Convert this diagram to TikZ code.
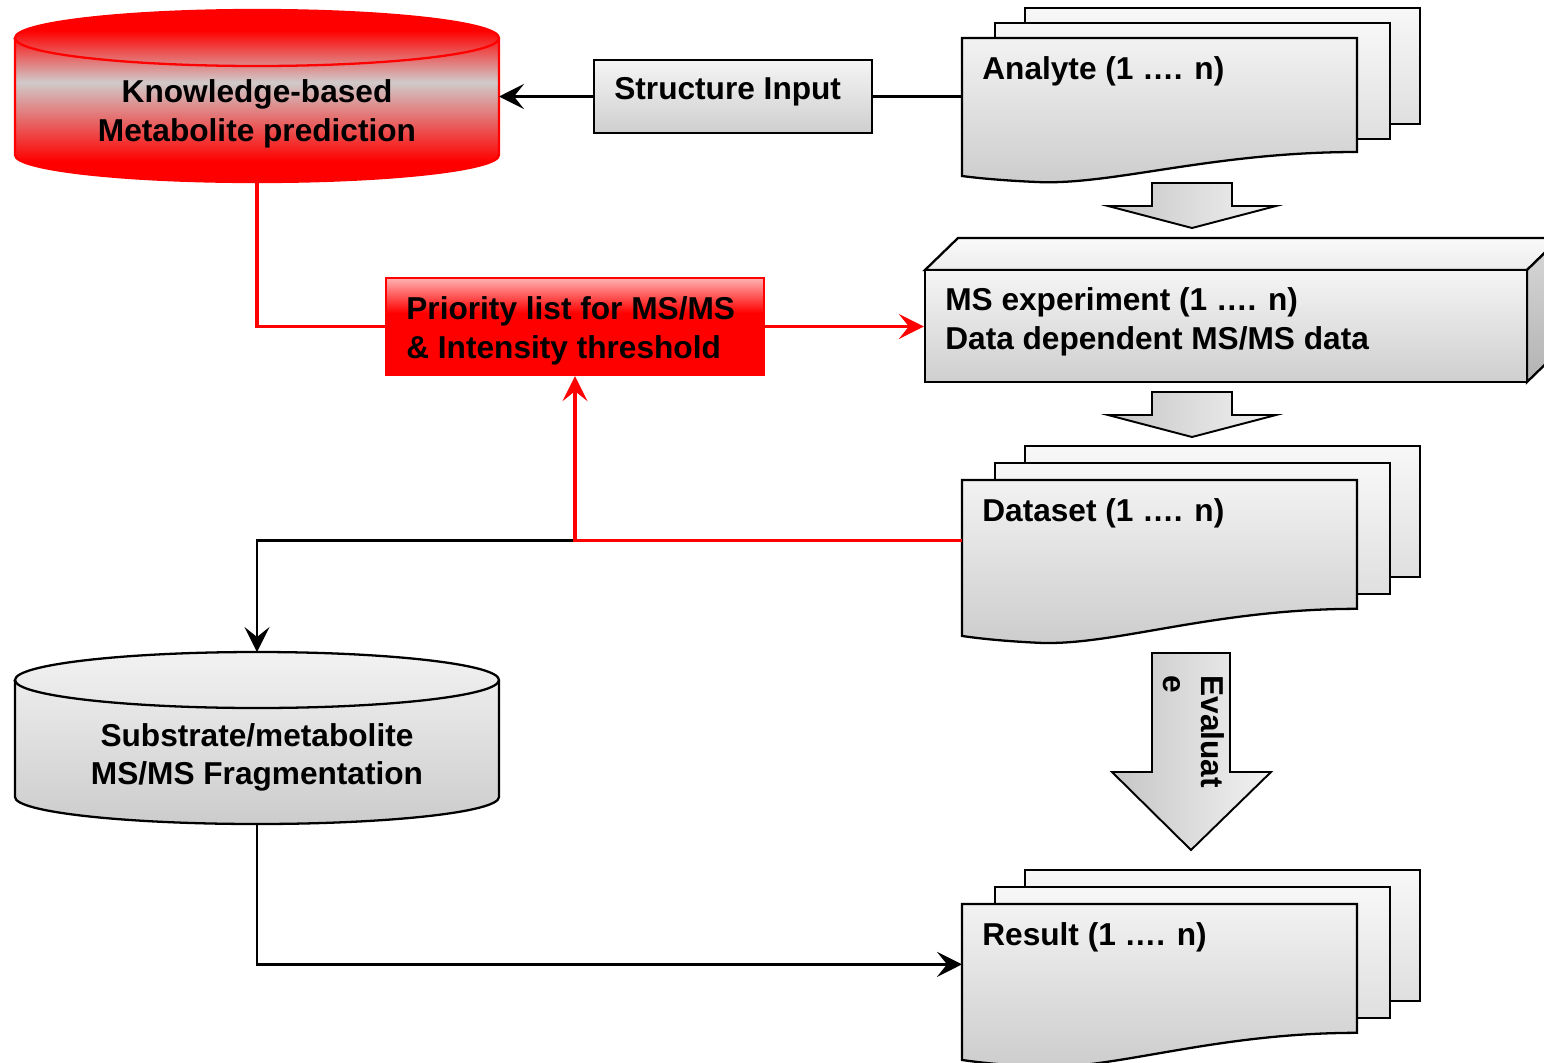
\documentclass[tikz,border=0pt]{standalone}
\usepackage{fontspec}
\setmainfont{Liberation Sans}
\usetikzlibrary{arrows.meta}

\definecolor{grisclaro}{RGB}{208,202,202}
\pgfdeclareverticalshading{sombrakb}{100bp}{color(0bp)=(red); color(31bp)=(red); color(54bp)=(grisclaro); color(69bp)=(red); color(100bp)=(red)}
\pgfdeclareverticalshading{sombraprio}{100bp}{color(0bp)=(red); color(57bp)=(red); color(75bp)=(red!30!white); color(100bp)=(red!30!white)}

% pila de documentos: #1 nombre, #2 esquina sup. izq., #3 escala vertical, #4 texto
\newcommand{\pila}[4]{%
  \begin{scope}[shift={#2}, yscale=#3]
    \path[docback] (1.26,0.6) rectangle ++(7.9,-2.32);
    \path[docback] (0.66,0.3) rectangle ++(7.9,-2.32);
    \path[docfront] (0,0) -- (7.9,0) -- (7.9,-2.28)
      .. controls (5.0,-2.28) and (3.0,-2.95) .. (1.5,-2.88)
      .. controls (0.8,-2.85) and (0.3,-2.8) .. (0,-2.76) -- cycle;
  \end{scope}
  \node[minimum width=7.9cm, minimum height=2.4cm, inner sep=0, anchor=north west] (#1) at #2 {};
  \node[anchor=west, inner sep=0] (#1txt) at ([shift={(0.4,-0.66)}]#1.north west) {#4};
}

\begin{document}
\begin{tikzpicture}[
  every node/.style={font=\fontsize{18}{22}\selectfont\bfseries},
  >={Stealth[length=0.5cm, width=0.5cm, inset=0.2cm]},
  caja/.style={rectangle, draw, line width=1.3pt, top color=gray!8, bottom color=gray!38},
  docfront/.style={draw, line width=1.3pt, top color=gray!10, bottom color=gray!40},
  docback/.style={draw, line width=1.3pt, top color=gray!6, bottom color=gray!25},
  flecha/.style={draw, line width=1.1pt, left color=gray!45, right color=gray!10},
  linea/.style={line width=1.4pt},
  linearoja/.style={red, line width=2pt}]

\useasboundingbox (0,0) rectangle (30.88,-21.24);

%% PREDICCION
% Base de conocimiento (cilindro rojo)
\path[draw=red, line width=1.3pt, shading=sombrakb] (0.3,-0.76) -- (0.3,-3.1)
  arc[start angle=180, end angle=360, x radius=4.84cm, y radius=0.54cm] -- (9.98,-0.76)
  arc[start angle=0, end angle=180, x radius=4.84cm, y radius=0.56cm] -- cycle;
\draw[red, line width=1.3pt] (0.3,-0.76) arc[start angle=180, end angle=360, x radius=4.84cm, y radius=0.56cm];
\node[align=center] (kb) at (5.14,-2.28) {Knowledge-based\\Metabolite prediction};
\coordinate (kbe) at (9.98,-1.93);
\coordinate (kbs) at (5.14,-3.64);

% Entrada de estructura
\node[caja, minimum width=5.56cm, minimum height=1.46cm] (struct) at (14.66,-1.93) {};
\node[anchor=west, inner sep=0] (structtxt) at (12.28,-1.84) {Structure Input};

% Analitos
\pila{analyte}{(19.24,-0.76)}{1}{Analyte (1 …. n)}

\draw[linea] (struct.east -| analyte.west) -- (struct.east);
\draw[linea,->] (struct.west) -- (kbe);

% Flecha 1
\path[flecha] (23.04,-3.66) -- (24.64,-3.66) -- (24.64,-4.12) -- (25.52,-4.12)
  -- (23.84,-4.56) -- (22.16,-4.12) -- (23.04,-4.12) -- cycle;

%% EXPERIMENTO
% Caja 3D
\path[draw, line width=1.3pt, top color=gray!4, bottom color=gray!15] (18.5,-5.4) -- (19.16,-4.76) -- (31.2,-4.76) -- (30.54,-5.4) -- cycle;
\path[draw, line width=1.3pt, top color=gray!30, bottom color=gray!60] (30.54,-5.4) -- (31.2,-4.76) -- (31.2,-7.0) -- (30.54,-7.64) -- cycle;
\node[caja, minimum width=12.04cm, minimum height=2.24cm] (ms) at (24.52,-6.52) {};
\node[anchor=west, align=left, inner sep=0] (mstxt) at (18.9,-6.44) {MS experiment (1 …. n)\\Data dependent MS/MS data};

% Lista de prioridad
\node[draw=red, line width=1.3pt, shading=sombraprio, minimum width=7.56cm, minimum height=1.94cm] (prio) at (11.5,-6.53) {};
\node[anchor=west, align=left, inner sep=0] (priotxt) at (8.12,-6.62) {Priority list for MS/MS\\\& Intensity threshold};

\draw[linearoja] (kbs) |- (prio.west);
\draw[linearoja,->] (prio.east) -- (prio.east -| ms.west);

% Flecha 2
\path[flecha] (23.04,-7.84) -- (24.64,-7.84) -- (24.64,-8.3) -- (25.52,-8.3)
  -- (23.84,-8.74) -- (22.16,-8.3) -- (23.04,-8.3) -- cycle;

%% DATOS
\pila{dataset}{(19.24,-9.6)}{1.13}{Dataset (1 …. n)}

% Fragmentacion (cilindro gris)
\path[draw, line width=1.3pt, top color=gray!10, bottom color=gray!40] (0.3,-13.6) -- (0.3,-15.94)
  arc[start angle=180, end angle=360, x radius=4.84cm, y radius=0.54cm] -- (9.98,-13.6)
  arc[start angle=0, end angle=180, x radius=4.84cm, y radius=0.56cm] -- cycle;
\draw[line width=1.3pt] (0.3,-13.6) arc[start angle=180, end angle=360, x radius=4.84cm, y radius=0.56cm];
\node[align=center] (frag) at (5.14,-15.15) {Substrate/metabolite\\MS/MS Fragmentation};
\coordinate (fragn) at (5.14,-13.04);
\coordinate (frags) at (5.14,-16.48);

\draw[linea,->] (dataset.west) -| (fragn);
\draw[linearoja,->] (dataset.west) -| (prio.south);

% Evaluar
\path[flecha] (23.04,-13.06) -- (24.6,-13.06) -- (24.6,-15.44) -- (25.42,-15.44)
  -- (23.82,-17.0) -- (22.24,-15.44) -- (23.04,-15.44) -- cycle;
\node[rotate=-90, anchor=north west, align=left, inner sep=0] (evtxt) at (24.5,-13.5) {Evaluat\\e};

%% RESULTADOS
\pila{result}{(19.24,-18.08)}{1.13}{Result (1 …. n)}

\draw[linea,->] (frags) |- (result.west);

\end{tikzpicture}
\end{document}
